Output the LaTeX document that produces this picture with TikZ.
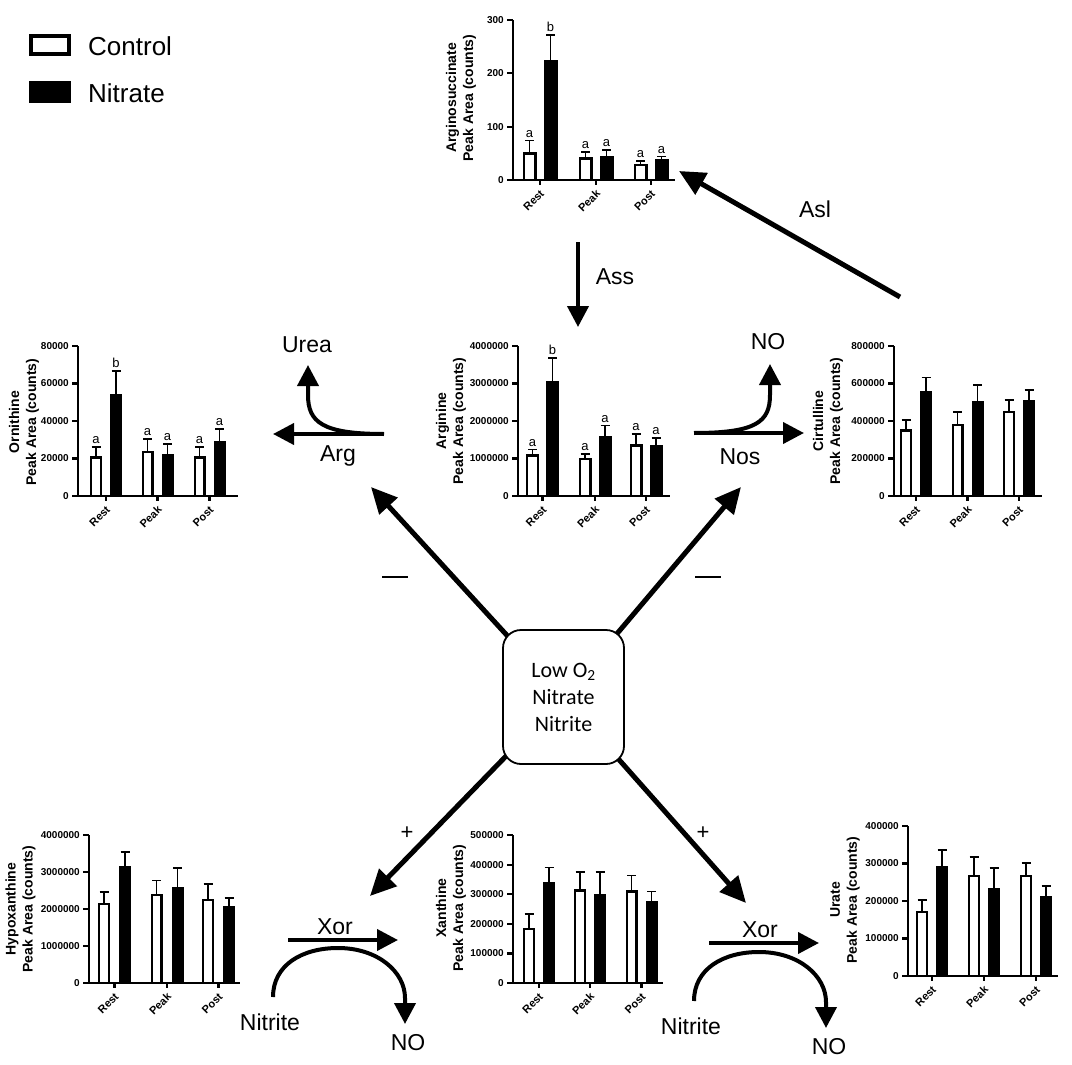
\documentclass[tikz,border=0pt]{standalone}
\usepackage{fontspec}
\setmainfont{Liberation Sans}
\newfontfamily\carl{Carlito}
\usetikzlibrary{arrows.meta,backgrounds}
\tikzset{
  axisline/.style={line width=2.2pt},
  barC/.style={line width=2.4pt, fill=white},
  barN/.style={line width=2.4pt, fill=black},
  errline/.style={line width=1.8pt},
  ticklab/.style={font=\bfseries\fontsize{10}{12}\selectfont, inner sep=1pt, anchor=east},
  xlab/.style={font=\bfseries\fontsize{11}{13}\selectfont, rotate=45, anchor=east, inner sep=1pt},
  ytitle/.style={font=\bfseries\fontsize{14}{17}\selectfont, rotate=90, align=center, inner sep=0pt},
  sig/.style={font=\fontsize{13}{15}\selectfont, inner sep=3pt, anchor=south},
  bigarrow/.style={line width=5pt, -{Triangle[length=26pt,width=24pt]}},
  smallarrow/.style={line width=4pt, -{Triangle[length=21pt,width=21pt]}},
  rxn/.style={font=\fontsize{23}{27}\selectfont, inner sep=1pt},
  legtext/.style={font=\fontsize{26}{30}\selectfont, anchor=west, inner sep=0pt},
  corebox/.style={draw, line width=1.8pt, rounded corners=18pt, fill=white,
    minimum width=121pt, minimum height=134pt, align=center,
    font=\carl\fontsize{22}{27}\selectfont},
}
\newcommand{\yaxis}[2]{%
  \draw[axisline] (0,0) -- (0,#1);
  \foreach \lab [count=\i from 0] in {#2} {
    \draw[axisline] (0,\i) -- (-6,\i);
    \node[ticklab] at (-8,\i) {\lab};
  }
}
% x axis drawn in pixel units (y down positive)
\newcommand{\xaxis}[2]{%
  \draw[axisline] (0,0) -- (#1,0);
  \foreach \c/\t in {#2} {
    \draw[axisline] (\c,0) -- (\c,5);
    \node[xlab] at (\c+3,11) {\t};
  }
}
\newcommand{\grp}[7]{%
  \draw[barC] (#1-\bg-\bw+1.2,0) rectangle (#1-\bg-1.2,#2);
  \draw[barN] (#1+\bg+1.2,0) rectangle (#1+\bg+\bw-1.2,#4);
  \draw[errline] (#1-\bg-\bw/2,#2) -- (#1-\bg-\bw/2,#3) +(-4.5,0) -- +(4.5,0);
  \draw[errline] (#1+\bg+\bw/2,#4) -- (#1+\bg+\bw/2,#5) +(-4.5,0) -- +(4.5,0);
  \node[sig] at (#1-\bg-\bw/2,#3) {#6};
  \node[sig] at (#1+\bg+\bw/2,#5) {#7};
}
\begin{document}
\begin{tikzpicture}[x=1pt,y=-1pt]
\useasboundingbox (0,0) rectangle (1072,1065);

% legend
\draw[line width=3.5pt] (31,36) rectangle (69,54);
\node[legtext] (legC) at (88,46) {Control};
\draw[line width=3.5pt, fill=black] (31,83) rectangle (69,101);
\node[legtext] (legN) at (88,93) {Nitrate};

% chart 1: Arginosuccinate
\begin{scope}[shift={(513,180)}]
  \xaxis{162}{27/Rest,83/Peak,138/Post}
  \begin{scope}[yscale=-53.333]
  \def\bw{14}\def\bg{3.5}
  \yaxis{3}{0,100,200,300}
  \grp{27}{0.50}{0.74}{2.23}{2.72}{a}{b}
  \grp{83}{0.40}{0.52}{0.43}{0.57}{a}{a}
  \grp{138}{0.28}{0.36}{0.37}{0.44}{a}{a}
  \end{scope}
\end{scope}
\node[ytitle] (t1) at (461,98) {Arginosuccinate\\Peak Area (counts)};

% chart 2: Ornithine
\begin{scope}[shift={(78,496)}]
  \xaxis{160}{28/Rest,79.5/Peak,131.5/Post}
  \begin{scope}[yscale=-37.5]
  \def\bw{12}\def\bg{4}
  \yaxis{4}{0,20000,40000,60000,80000}
  \grp{28}{1.03}{1.30}{2.69}{3.34}{a}{b}
  \grp{79.5}{1.18}{1.53}{1.09}{1.38}{a}{a}
  \grp{131.5}{1.03}{1.31}{1.44}{1.78}{a}{a}
  \end{scope}
\end{scope}
\node[ytitle] (t2) at (24,422) {Ornithine\\Peak Area (counts)};

% chart 3: Arginine
\begin{scope}[shift={(518,496)}]
  \xaxis{152}{24.5/Rest,77/Peak,128/Post}
  \begin{scope}[yscale=-37.5]
  \def\bw{13}\def\bg{3.5}
  \yaxis{4}{0,1000000,2000000,3000000,4000000}
  \grp{24.5}{1.08}{1.24}{3.04}{3.68}{a}{b}
  \grp{77}{0.98}{1.13}{1.56}{1.88}{a}{a}
  \grp{128}{1.35}{1.66}{1.32}{1.55}{a}{a}
  \end{scope}
\end{scope}
\node[ytitle] (t3) at (451,421) {Arginine\\Peak Area (counts)};

% chart 4: Cirtulline
\begin{scope}[shift={(894,496)}]
  \xaxis{148}{22/Rest,73.5/Peak,125/Post}
  \begin{scope}[yscale=-37.5]
  \def\bw{12}\def\bg{4}
  \yaxis{4}{0,200000,400000,600000,800000}
  \grp{22}{1.75}{2.02}{2.77}{3.16}{}{}
  \grp{73.5}{1.89}{2.24}{2.49}{2.96}{}{}
  \grp{125}{2.24}{2.57}{2.54}{2.82}{}{}
  \end{scope}
\end{scope}
\node[ytitle] (t4) at (828,421) {Cirtulline\\Peak Area (counts)};

% chart 5: Hypoxanthine
\begin{scope}[shift={(89,983)}]
  \xaxis{151}{25.5/Rest,78/Peak,129.5/Post}
  \begin{scope}[yscale=-37]
  \def\bw{12}\def\bg{4.5}
  \yaxis{4}{0,1000000,2000000,3000000,4000000}
  \grp{25.5}{2.14}{2.47}{3.12}{3.53}{}{}
  \grp{78}{2.38}{2.77}{2.56}{3.10}{}{}
  \grp{129.5}{2.25}{2.68}{2.05}{2.29}{}{}
  \end{scope}
\end{scope}
\node[ytitle] (t5) at (20.5,909) {Hypoxanthine\\Peak Area (counts)};

% chart 6: Xanthine
\begin{scope}[shift={(513,983)}]
  \xaxis{150}{26/Rest,77/Peak,128.5/Post}
  \begin{scope}[yscale=-29.6]
  \def\bw{12}\def\bg{4}
  \yaxis{5}{0,100000,200000,300000,400000,500000}
  \grp{26}{1.82}{2.34}{3.37}{3.90}{}{}
  \grp{77}{3.12}{3.76}{2.98}{3.74}{}{}
  \grp{128.5}{3.09}{3.63}{2.72}{3.09}{}{}
  \end{scope}
\end{scope}
\node[ytitle] (t6) at (451,908) {Xanthine\\Peak Area (counts)};

% chart 7: Urate
\begin{scope}[shift={(908,976)}]
  \xaxis{150}{24/Rest,76/Peak,128/Post}
  \begin{scope}[yscale=-37.5]
  \def\bw{12}\def\bg{4}
  \yaxis{4}{0,100000,200000,300000,400000}
  \grp{24}{1.71}{2.02}{2.91}{3.35}{}{}
  \grp{76}{2.66}{3.18}{2.32}{2.88}{}{}
  \grp{128}{2.66}{3.02}{2.11}{2.40}{}{}
  \end{scope}
\end{scope}
\node[ytitle] (t7) at (845,900) {Urate\\Peak Area (counts)};

% central box and diagonal arrows
\node[corebox] (core) at (563.5,697) {Low O\textsubscript{2}\\Nitrate\\Nitrite};
\coordinate (nwT) at (371,487);
\coordinate (neT) at (741,487);
\coordinate (swT) at (370,896);
\coordinate (seT) at (746,903);
\begin{scope}[on background layer]
  \draw[bigarrow] (core.center) -- (nwT);
  \draw[bigarrow] (core.center) -- (neT);
  \draw[bigarrow] (core.center) -- (swT);
  \draw[bigarrow] (core.center) -- (seT);
\end{scope}
\node (minusL) at (395,577) {\rule{26pt}{2pt}};
\node (minusR) at (708,577) {\rule{26pt}{2pt}};
\node[font=\fontsize{22}{26}\selectfont] (plusL) at (407,833) {+};
\node[font=\fontsize{22}{26}\selectfont] (plusR) at (703,833) {+};

% Ass / Asl
\coordinate (assS) at (578,242);
\coordinate (assT) at (578,327);
\draw[smallarrow] (assS) -- (assT);
\node[rxn] (ass) at (615,277) {Ass};
\coordinate (aslS) at (900,297);
\coordinate (aslT) at (679,171);
\draw[bigarrow] (aslS) -- (aslT);
\node[rxn] (asl) at (815,209) {Asl};

% Arg -> Urea
\coordinate (argS) at (384,434);
\coordinate (argT) at (273,434);
\coordinate (ureaT) at (308,365);
\draw[smallarrow] (argS) -- (argT);
\draw[smallarrow] (argS) .. controls (322,434) and (308,422) .. (308,395) -- (ureaT);
\node[rxn] (urea) at (307,345) {Urea};
\node[rxn] (arg) at (338,456) {Arg};

% Nos -> NO
\coordinate (nosS) at (694,433);
\coordinate (nosT) at (804,433);
\coordinate (noT) at (770,364);
\draw[smallarrow] (nosS) -- (nosT);
\draw[smallarrow] (nosS) .. controls (756,433) and (770,422) .. (770,395) -- (noT);
\node[rxn] (no1) at (768,342) {NO};
\node[rxn] (nos) at (740,457) {Nos};

% Xor left
\coordinate (xorLS) at (288,940);
\coordinate (xorLT) at (398,940);
\coordinate (nitLS) at (273,997);
\coordinate (noLT) at (405,1024);
\draw[smallarrow] (xorLS) -- (xorLT);
\draw[smallarrow] (nitLS) .. controls (273,965) and (302,948) .. (338,948)
   .. controls (378,948) and (405,972) .. (405,998) -- (noLT);
\node[rxn] (xorL) at (335,927) {Xor};
\node[rxn] (nitL) at (270,1022) {Nitrite};
\node[rxn] (noL) at (408,1043) {NO};

% Xor right
\coordinate (xorRS) at (709,943);
\coordinate (xorRT) at (819,943);
\coordinate (nitRS) at (694,1001);
\coordinate (noRT) at (826,1028);
\draw[smallarrow] (xorRS) -- (xorRT);
\draw[smallarrow] (nitRS) .. controls (694,969) and (723,952) .. (759,952)
   .. controls (799,952) and (826,976) .. (826,1002) -- (noRT);
\node[rxn] (xorR) at (760,930) {Xor};
\node[rxn] (nitR) at (691,1026) {Nitrite};
\node[rxn] (noR) at (829,1047) {NO};
\end{tikzpicture}
\end{document}
